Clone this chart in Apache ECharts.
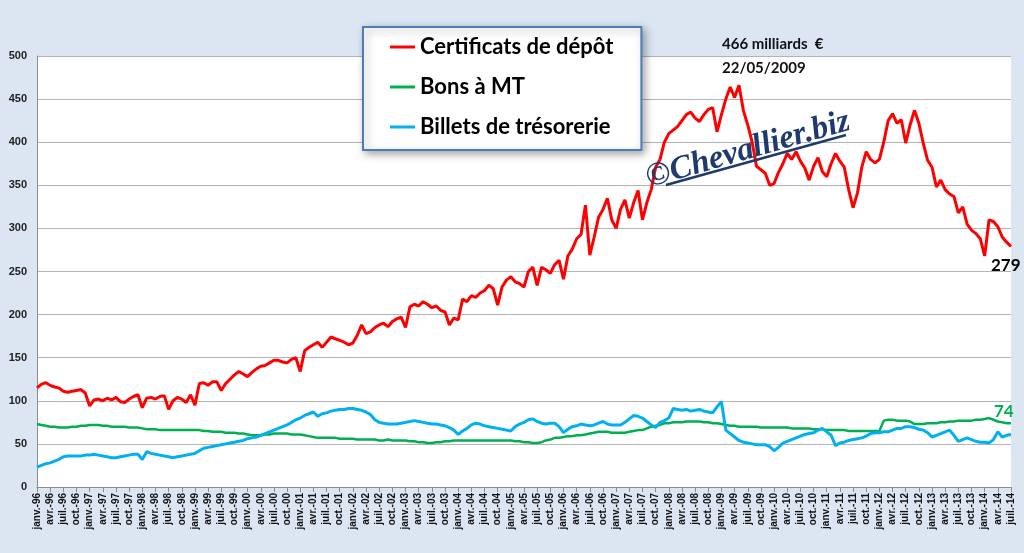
<!DOCTYPE html>
<html lang="fr">
<head>
<meta charset="UTF-8">
<title>Encours TCN</title>
<script src="https://cdn.jsdelivr.net/npm/echarts@6.0.0/dist/echarts.min.js"></script>
<style>
  html, body { margin: 0; padding: 0; background: #dce6f2; }
  #main { width: 1024px; height: 553px; }
</style>
</head>
<body>
<div id="main"></div>
<script type="text/javascript">
// mois (libellés de l'axe)
var monthNames = ['janv.', 'févr.', 'mars', 'avr.', 'mai', 'juin', 'juil.', 'août', 'sept.', 'oct.', 'nov.', 'déc.'];
var years = ['96', '97', '98', '99', '00', '01', '02', '03', '04', '05', '06', '07', '08', '09', '10', '11', '12', '13', '14'];

// Certificats de dépôt (milliards €), un point par mois, janv-96 -> juil-14
var certificats = [
  115, 119, 121, 118, 116, 115, 111, 110, 111, 112, 113, 109,
  94, 101, 102, 100, 103, 101, 104, 99, 98, 102, 105, 107,
  92, 103, 104, 102, 105, 106, 90, 100, 104, 102, 98, 107,
  95, 120, 121, 118, 122, 122, 112, 120, 125, 130, 134, 131,
  128, 133, 137, 140, 141, 144, 147, 147, 145, 144, 148, 150,
  134, 158, 162, 165, 168, 162, 168, 174, 172, 170, 168, 165,
  167, 176, 188, 178, 180, 185, 188, 190, 186, 192, 195, 197,
  185, 209, 212, 210, 215, 212, 208, 210, 205, 203, 188, 196,
  194, 218, 215, 222, 220, 225, 228, 234, 230, 211, 232, 240,
  244, 238, 236, 232, 250, 255, 234, 255, 252, 248, 258, 263,
  241, 268, 276, 288, 293, 327, 269, 290, 313, 322, 335, 310,
  300, 322, 333, 312, 330, 344, 310, 330, 345, 371, 380, 400,
  410, 414, 418, 425, 432, 435, 428, 424, 432, 438, 440, 412,
  432, 450, 464, 452, 466, 437, 420, 400, 372, 368, 364, 350,
  352, 365, 375, 387, 380, 389, 378, 370, 356, 372, 382, 366,
  360, 375, 387, 378, 371, 345, 324, 341, 371, 389, 380, 376,
  380, 400, 425, 433, 422, 426, 399, 420, 437, 422, 399, 379,
  371, 348, 356, 345, 340, 337, 318, 325, 305, 298, 294, 288,
  268, 310, 308, 302, 290, 284, 279
];

// Bons à MT
var bonsMT = [
  73, 72, 71, 70, 70, 69, 69, 69, 70, 70, 71, 71,
  72, 72, 72, 71, 71, 70, 70, 70, 70, 69, 69, 69,
  68, 67, 67, 67, 66, 66, 66, 66, 66, 66, 66, 66,
  66, 66, 65, 65, 64, 64, 64, 63, 63, 63, 62, 62,
  61, 60, 60, 60, 61, 61, 62, 62, 62, 62, 61, 61,
  61, 60, 59, 58, 57, 57, 57, 57, 57, 56, 56, 56,
  56, 55, 55, 55, 55, 55, 54, 54, 55, 54, 54, 54,
  54, 53, 53, 52, 52, 51, 51, 52, 52, 53, 53, 54,
  54, 54, 54, 54, 54, 54, 54, 54, 54, 54, 54, 54,
  54, 53, 53, 52, 52, 51, 51, 52, 54, 55, 57, 57,
  58, 59, 59, 60, 60, 61, 62, 63, 64, 64, 64, 63,
  63, 63, 63, 64, 65, 66, 66, 68, 70, 71, 72, 74,
  74, 75, 75, 75, 76, 76, 76, 76, 75, 75, 74, 74,
  73, 72, 71, 71, 70, 70, 70, 70, 70, 69, 69, 69,
  69, 69, 69, 69, 68, 68, 68, 68, 68, 67, 67, 67,
  66, 66, 66, 66, 66, 65, 65, 65, 65, 65, 65, 65,
  65, 77, 78, 78, 77, 77, 77, 76, 73, 73, 73, 74,
  74, 74, 75, 75, 76, 76, 77, 77, 77, 77, 78, 78,
  79, 80, 78, 76, 75, 74, 74
];

// Billets de trésorerie
var billets = [
  23, 25, 27, 28, 30, 32, 35, 36, 36, 36, 36, 37,
  37, 38, 37, 36, 35, 34, 34, 35, 36, 37, 38, 38,
  32, 41, 39, 38, 37, 36, 35, 34, 35, 36, 37, 38,
  39, 42, 45, 46, 47, 48, 49, 50, 51, 52, 53, 54,
  56, 57, 58, 60, 62, 64, 66, 68, 70, 72, 75, 78,
  80, 83, 85, 87, 82, 85, 86, 88, 89, 90, 90, 91,
  91, 90, 89, 87, 84, 78, 75, 74, 73, 73, 73, 74,
  75, 76, 77, 76, 75, 74, 73, 73, 72, 71, 69, 66,
  61, 65, 68, 72, 74, 73, 71, 70, 69, 68, 67, 66,
  65, 70, 73, 75, 78, 79, 76, 74, 73, 74, 74, 70,
  63, 67, 70, 71, 73, 72, 71, 72, 74, 76, 73, 72,
  72, 72, 75, 79, 83, 82, 80, 76, 72, 69, 75, 77,
  80, 91, 90, 89, 90, 88, 89, 90, 88, 87, 86, 93,
  99, 66, 62, 58, 54, 52, 51, 50, 49, 49, 49, 47,
  42, 46, 51, 53, 55, 57, 59, 61, 62, 63, 66, 68,
  64, 60, 48, 51, 52, 54, 55, 56, 57, 59, 62, 63,
  63, 64, 64, 66, 68, 68, 70, 70, 69, 67, 66, 63,
  58, 60, 62, 64, 66, 60, 53, 55, 57, 55, 53, 52,
  52, 51, 55, 64, 58, 60, 61
];

var categories = [];
years.forEach(function (y) {
  monthNames.forEach(function (m) {
    if (categories.length < certificats.length) categories.push(m + '-' + y);
  });
});

var myChart = echarts.init(document.getElementById('main'));
var navy = '#1f3a6e';

var option = {
  backgroundColor: '#dce6f2',
  animation: false,
  grid: {
    left: 37, right: 13, top: 56, bottom: 66,
    show: true, backgroundColor: '#ffffff', borderWidth: 0
  },
  legend: {
    left: 363, top: 27,
    orient: 'vertical',
    backgroundColor: '#ffffff',
    borderColor: '#4a7ebb', borderWidth: 2,
    shadowBlur: 8, shadowColor: 'rgba(0,0,0,0.35)', shadowOffsetX: 3, shadowOffsetY: 3,
    padding: [9, 28, 12, 27],
    itemGap: 18, itemWidth: 25, itemHeight: 3,
    icon: 'rect',
    textStyle: { fontFamily: 'Lato', fontWeight: 'bold', fontSize: 22, color: '#000' },
    data: ['Certificats de dépôt', 'Bons à MT', 'Billets de trésorerie']
  },
  xAxis: {
    type: 'category',
    data: categories,
    boundaryGap: false,
    axisLine: { lineStyle: { color: '#8c8c8c' } },
    axisTick: { interval: 2, length: 5, lineStyle: { color: '#8c8c8c' } },
    axisLabel: {
      interval: 2, rotate: 90, margin: 6,
      fontFamily: 'Liberation Sans', fontWeight: 'bold', fontSize: 10, color: '#111'
    },
    splitLine: { show: false }
  },
  yAxis: {
    type: 'value',
    min: 0, max: 500, interval: 50,
    axisLine: { show: true, lineStyle: { color: '#8c8c8c' } },
    axisTick: { show: false },
    axisLabel: { margin: 10, fontFamily: 'Liberation Sans', fontWeight: 'bold', fontSize: 11, color: '#222' },
    splitLine: { lineStyle: { color: '#b3b3b3', width: 1.2 } }
  },
  series: [
    {
      name: 'Certificats de dépôt', type: 'line', data: certificats,
      showSymbol: false, color: '#ff0000', lineStyle: { width: 3 }, z: 3,
      endLabel: {
        show: true, formatter: function (p) { return p.value; },
        offset: [-28, 19], fontFamily: 'Lato', fontWeight: 'bold', fontSize: 17, color: '#000'
      }
    },
    {
      name: 'Bons à MT', type: 'line', data: bonsMT,
      showSymbol: false, color: '#00b050', lineStyle: { width: 2.5 }, z: 2,
      endLabel: {
        show: true, formatter: function (p) { return p.value; },
        offset: [-25, -12], fontFamily: 'Lato', fontWeight: 'bold', fontSize: 17, color: '#00b050'
      }
    },
    {
      name: 'Billets de trésorerie', type: 'line', data: billets,
      showSymbol: false, color: '#00b0f0', lineStyle: { width: 3 }, z: 2
    }
  ],
  graphic: [
    {
      type: 'text', left: 722, top: 37,
      style: { text: '466 milliards  €', font: 'bold 15px Lato', fill: '#111' }
    },
    {
      type: 'text', left: 722, top: 61,
      style: { text: '22/05/2009', font: 'bold 15px Lato', fill: '#111' }
    },
    {
      type: 'text', x: 748, y: 150, rotation: 0.28, z: 10,
      style: {
        text: '©Chevallier.biz', font: 'italic bold 33px "Liberation Serif"',
        fill: navy, align: 'center', verticalAlign: 'middle'
      }
    },
    {
      type: 'line', z: 10,
      shape: { x1: 666, y1: 185, x2: 846, y2: 135 },
      style: { stroke: navy, lineWidth: 2.5 }
    }
  ]
};

myChart.setOption(option);
</script>
</body>
</html>
